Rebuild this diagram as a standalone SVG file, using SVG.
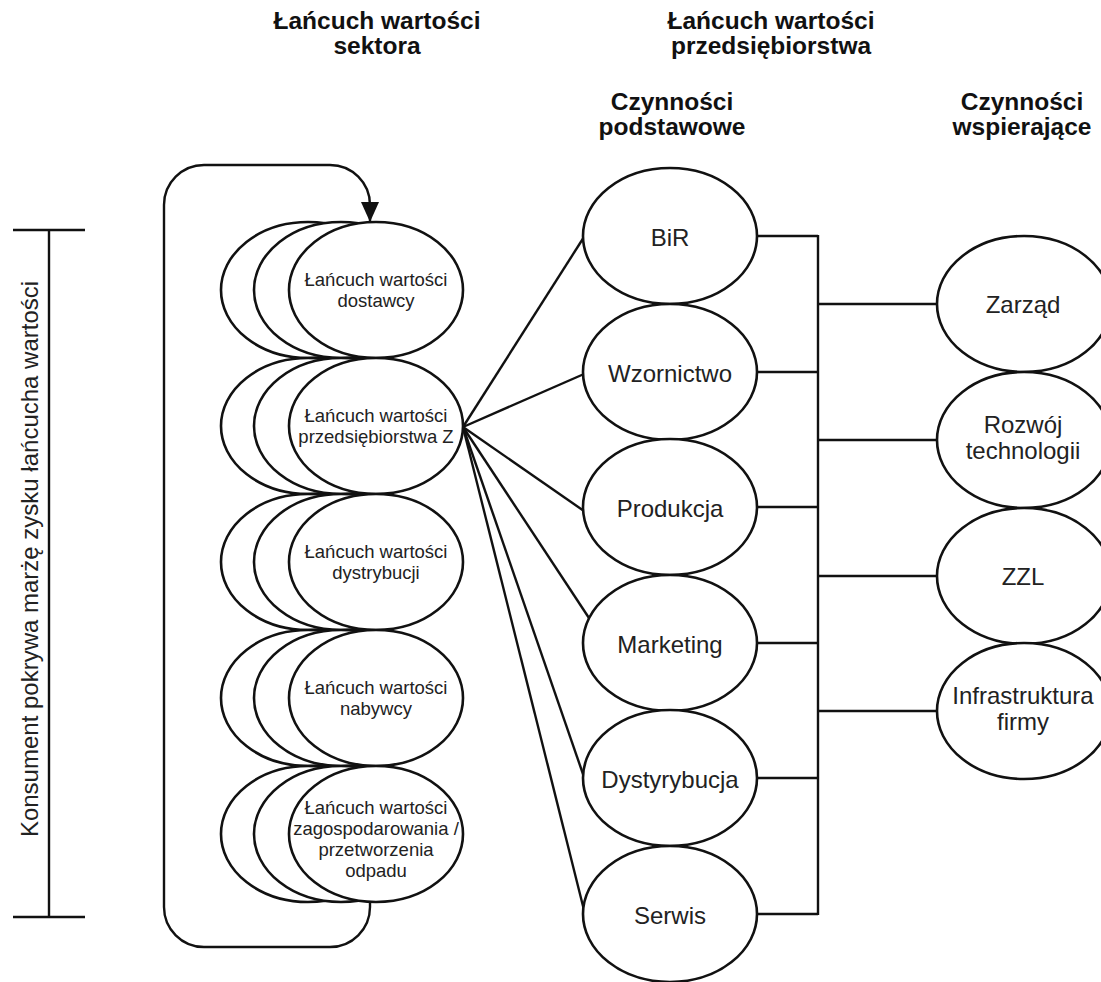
<svg xmlns="http://www.w3.org/2000/svg" width="1101" height="982" viewBox="0 0 1101 982">
  <defs>
    <marker id="arrow" viewBox="0 0 20 18" refX="20" refY="9" markerWidth="20" markerHeight="18" markerUnits="userSpaceOnUse" orient="auto">
      <path d="M0,0 L20,9 L0,18 z" fill="#111"/>
    </marker>
    <style>
      .shape { fill: #fff; stroke: #111; stroke-width: 2.6; }
      .line { fill: none; stroke: #111; stroke-width: 2.4; }
      text { font-family: "Liberation Sans", Arial, sans-serif; fill: #222; text-anchor: middle; }
      .small { font-size: 18.5px; }
      .label { font-size: 24px; }
      .title { font-size: 24.5px; font-weight: bold; fill: #111; }
    </style>
  </defs>

  <rect width="1101" height="982" fill="#fff"/>

  <!-- column headings -->
  <g id="headings">
    <text class="title" x="377" y="29">Łańcuch wartości</text>
    <text class="title" x="377" y="54">sektora</text>
    <text class="title" x="771" y="29">Łańcuch wartości</text>
    <text class="title" x="771" y="54">przedsiębiorstwa</text>
    <text class="title" x="672" y="110">Czynności</text>
    <text class="title" x="672" y="135">podstawowe</text>
    <text class="title" x="1022" y="110">Czynności</text>
    <text class="title" x="1022" y="135">wspierające</text>
  </g>

  <!-- consumer margin bracket -->
  <g id="margin-bracket">
    <line class="line" x1="49" y1="230" x2="49" y2="917"/>
    <line class="line" x1="13" y1="230" x2="85" y2="230"/>
    <line class="line" x1="13" y1="917" x2="85" y2="917"/>
    <text class="label" transform="translate(38,559) rotate(-90)">Konsument pokrywa marżę zysku łańcucha wartości</text>
  </g>

  <!-- connectors -->
  <g id="connectors">
    <!-- feedback loop around the sector chain -->
    <path class="line" marker-end="url(#arrow)" d="M370,902 V907 A40,40 0 0 1 330,947 H204 A40,40 0 0 1 164,907 V205 A40,40 0 0 1 204,165 H330 A40,40 0 0 1 370,205 V222"/>
    <!-- enterprise chain to primary activities -->
    <line class="line" x1="463" y1="427" x2="584" y2="237"/>
    <line class="line" x1="463" y1="427" x2="584" y2="374"/>
    <line class="line" x1="463" y1="427" x2="584" y2="511"/>
    <line class="line" x1="463" y1="427" x2="589" y2="618"/>
    <line class="line" x1="463" y1="427" x2="584" y2="777"/>
    <line class="line" x1="463" y1="427" x2="584" y2="910"/>
    <!-- primary activities to the support bus -->
    <line class="line" x1="757" y1="236" x2="818" y2="236"/>
    <line class="line" x1="757" y1="372" x2="818" y2="372"/>
    <line class="line" x1="757" y1="507" x2="818" y2="507"/>
    <line class="line" x1="757" y1="643" x2="818" y2="643"/>
    <line class="line" x1="757" y1="778" x2="818" y2="778"/>
    <line class="line" x1="757" y1="914" x2="818" y2="914"/>
    <line class="line" x1="818" y1="235" x2="818" y2="915"/>
    <!-- support bus to support activities -->
    <line class="line" x1="818" y1="304" x2="937" y2="304"/>
    <line class="line" x1="818" y1="440" x2="937" y2="440"/>
    <line class="line" x1="818" y1="576" x2="937" y2="576"/>
    <line class="line" x1="818" y1="711" x2="937" y2="711"/>
  </g>

  <!-- sector value chain: stacked ellipses -->
  <g id="chain-dostawcy">
    <ellipse class="shape" cx="308" cy="290" rx="87" ry="68"/>
    <ellipse class="shape" cx="341" cy="290" rx="87" ry="68"/>
    <ellipse class="shape" cx="376" cy="290" rx="87" ry="68"/>
    <text class="small" x="376" y="286">Łańcuch wartości</text>
    <text class="small" x="376" y="307">dostawcy</text>
  </g>
  <g id="chain-przedsiebiorstwa">
    <ellipse class="shape" cx="308" cy="426" rx="87" ry="68"/>
    <ellipse class="shape" cx="341" cy="426" rx="87" ry="68"/>
    <ellipse class="shape" cx="376" cy="426" rx="87" ry="68"/>
    <text class="small" x="376" y="422">Łańcuch wartości</text>
    <text class="small" x="376" y="443">przedsiębiorstwa Z</text>
  </g>
  <g id="chain-dystrybucji">
    <ellipse class="shape" cx="308" cy="562" rx="87" ry="68"/>
    <ellipse class="shape" cx="341" cy="562" rx="87" ry="68"/>
    <ellipse class="shape" cx="376" cy="562" rx="87" ry="68"/>
    <text class="small" x="376" y="558">Łańcuch wartości</text>
    <text class="small" x="376" y="579">dystrybucji</text>
  </g>
  <g id="chain-nabywcy">
    <ellipse class="shape" cx="308" cy="698" rx="87" ry="68"/>
    <ellipse class="shape" cx="341" cy="698" rx="87" ry="68"/>
    <ellipse class="shape" cx="376" cy="698" rx="87" ry="68"/>
    <text class="small" x="376" y="694">Łańcuch wartości</text>
    <text class="small" x="376" y="715">nabywcy</text>
  </g>
  <g id="chain-odpady">
    <ellipse class="shape" cx="308" cy="834" rx="87" ry="68"/>
    <ellipse class="shape" cx="341" cy="834" rx="87" ry="68"/>
    <ellipse class="shape" cx="376" cy="834" rx="87" ry="68"/>
    <text class="small" x="376" y="814">Łańcuch wartości</text>
    <text class="small" x="376" y="835">zagospodarowania /</text>
    <text class="small" x="376" y="856">przetworzenia</text>
    <text class="small" x="376" y="877">odpadu</text>
  </g>

  <!-- primary activities -->
  <g id="bir">
    <ellipse class="shape" cx="670" cy="236" rx="87" ry="68"/>
    <text class="label" x="670" y="246">BiR</text>
  </g>
  <g id="wzornictwo">
    <ellipse class="shape" cx="670" cy="372" rx="87" ry="68"/>
    <text class="label" x="670" y="382">Wzornictwo</text>
  </g>
  <g id="produkcja">
    <ellipse class="shape" cx="670" cy="507" rx="87" ry="68"/>
    <text class="label" x="670" y="517">Produkcja</text>
  </g>
  <g id="marketing">
    <ellipse class="shape" cx="670" cy="643" rx="87" ry="68"/>
    <text class="label" x="670" y="653">Marketing</text>
  </g>
  <g id="dystyrybucja">
    <ellipse class="shape" cx="670" cy="778" rx="87" ry="68"/>
    <text class="label" x="670" y="788">Dystyrybucja</text>
  </g>
  <g id="serwis">
    <ellipse class="shape" cx="670" cy="914" rx="87" ry="68"/>
    <text class="label" x="670" y="924">Serwis</text>
  </g>

  <!-- support activities -->
  <g id="zarzad">
    <ellipse class="shape" cx="1024" cy="304" rx="87" ry="68"/>
    <text class="label" x="1023" y="313">Zarząd</text>
  </g>
  <g id="rozwoj-technologii">
    <ellipse class="shape" cx="1024" cy="440" rx="87" ry="68"/>
    <text class="label" x="1023" y="433">Rozwój</text>
    <text class="label" x="1023" y="459">technologii</text>
  </g>
  <g id="zzl">
    <ellipse class="shape" cx="1024" cy="576" rx="87" ry="68"/>
    <text class="label" x="1023" y="585">ZZL</text>
  </g>
  <g id="infrastruktura">
    <ellipse class="shape" cx="1024" cy="711" rx="87" ry="68"/>
    <text class="label" x="1023" y="704">Infrastruktura</text>
    <text class="label" x="1023" y="730">firmy</text>
  </g>
</svg>
